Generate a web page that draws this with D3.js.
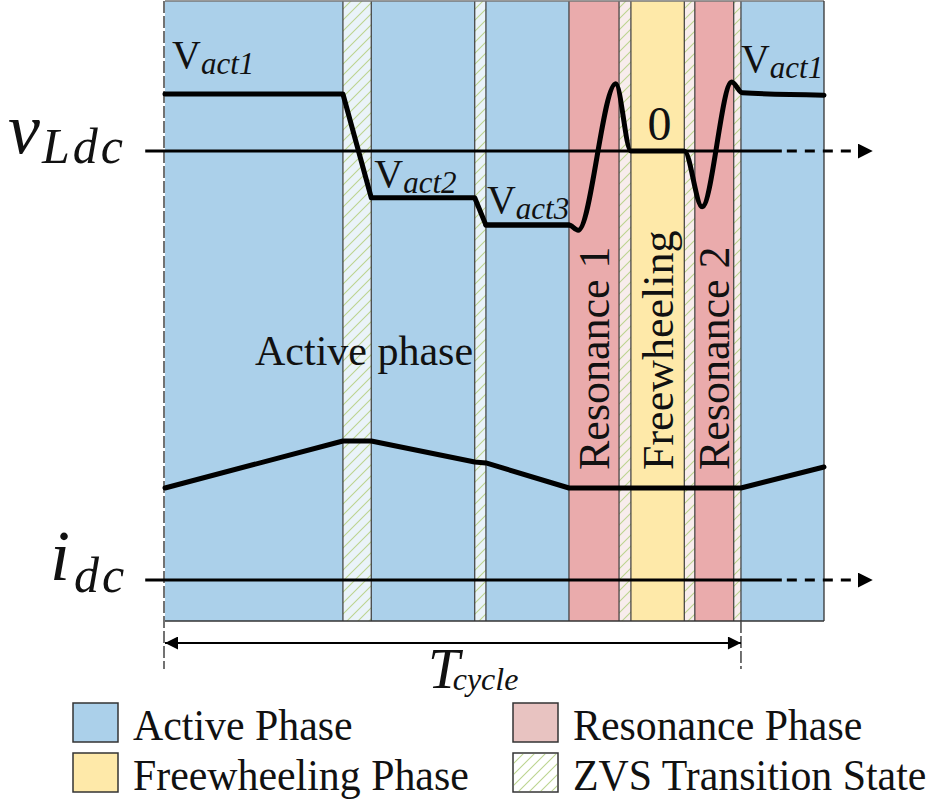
<!DOCTYPE html>
<html>
<head>
<meta charset="utf-8">
<script src="https://cdn.jsdelivr.net/npm/d3@7"></script>
<style>
  body { margin: 0; background: #fff; }
  svg { display: block; }
  text { font-family: "Liberation Serif", "Times New Roman", serif; fill: #111; }
</style>
</head>
<body>
<svg width="935" height="799"></svg>
<script>
// time axis is 0..100 % of the drawn window
const phaseBounds = [0, 27.0, 31.3, 47.0, 48.7, 61.3, 68.9, 70.7, 78.8, 80.4, 86.3, 87.4, 100];
const phaseTypes = ["active", "zvs", "active", "zvs", "active", "resonance", "zvs",
                    "freewheeling", "zvs", "resonance", "zvs", "active"];
const phaseNames = ["Resonance 1", "Freewheeling", "Resonance 2"];
const namedPhases = [5, 7, 9];

// v_Ldc, normalised to V_act1
const vSteps = [[0, 1], [27.0, 1], [31.3, -0.82], [47.0, -0.82], [48.7, -1.30], [61.3, -1.30]];
const vResonant = [[48.7, -1.30], [61.3, -1.30], [62.7, -1.39], [68.4, 1.18], [70.7, 0], [78.8, 0],
                   [81.5, -0.98], [86.0, 1.21], [87.6, 1.02], [100, 0.98]];
// i_dc, normalised to its peak
const iDc = [[0, 0.662], [27.0, 1], [31.3, 1], [47.0, 0.849], [48.7, 0.842], [61.3, 0.662],
             [87.4, 0.662], [100, 0.813]];

const legendLabels = ["Active Phase", "Resonance Phase", "Freewheeling Phase", "ZVS Transition State"];
const legendKeys = ["active", "resonanceLegend", "freewheeling", "zvs"];

const tCycle = [0, 87.4];

let svg = d3.select("svg");

let x = d3.scaleLinear().domain([0, 100]).range([165, 824]);
let yV = d3.scaleLinear().domain([0, 1]).range([151, 94]);
let yI = d3.scaleLinear().domain([0, 1]).range([580, 441]);
const yTop = 1, yBottom = 621;

const fills = {
  active: "#abd0ea",
  resonance: "#eaabac",
  resonanceLegend: "#e8c3c1",
  freewheeling: "#fee9a9",
};

let defs = svg.append("defs");
let hatch = defs.append("pattern")
    .attr("id", "hatch")
    .attr("patternUnits", "userSpaceOnUse")
    .attr("width", 11).attr("height", 11);
hatch.append("path")
    .attr("d", "M-1,12 L12,-1 M-3,3 L3,-3 M8,14 L14,8")
    .attr("stroke", "#bcd48f")
    .attr("stroke-width", 1.1);

defs.append("marker")
    .attr("id", "tip")
    .attr("viewBox", "0 0 10 10")
    .attr("refX", 10).attr("refY", 5)
    .attr("markerWidth", 5).attr("markerHeight", 5)
    .attr("markerUnits", "strokeWidth")
    .attr("orient", "auto-start-reverse")
  .append("path")
    .attr("d", "M0,0 L10,5 L0,10 Z")
    .attr("fill", "#000");

defs.append("marker")
    .attr("id", "tipThin")
    .attr("viewBox", "0 0 10 10")
    .attr("refX", 10).attr("refY", 5)
    .attr("markerWidth", 9).attr("markerHeight", 6.5)
    .attr("markerUnits", "strokeWidth")
    .attr("orient", "auto-start-reverse")
  .append("path")
    .attr("d", "M0,0 L10,5 L0,10 Z")
    .attr("fill", "#000");

// phase stripes
let phases = phaseTypes.map((type, i) => ({
  type: type,
  t0: phaseBounds[i],
  t1: phaseBounds[i + 1],
  prev: phaseTypes[i - 1]
}));

let stripes = svg.append("g").attr("class", "stripes");
stripes.selectAll("rect.bg")
  .data(phases)
  .enter().append("rect")
    .attr("class", "bg")
    .attr("x", d => x(d.t0))
    .attr("y", yTop)
    .attr("width", d => x(d.t1) - x(d.t0))
    .attr("height", yBottom - yTop)
    .attr("fill", d => d.type !== "zvs" ? fills[d.type] : (d.prev === "active" ? "#eaf3f9" : "#f8eded"));

stripes.selectAll("rect.hatch")
  .data(phases.filter(d => d.type === "zvs"))
  .enter().append("rect")
    .attr("class", "hatch")
    .attr("x", d => x(d.t0))
    .attr("y", yTop)
    .attr("width", d => x(d.t1) - x(d.t0))
    .attr("height", yBottom - yTop)
    .attr("fill", "url(#hatch)");

stripes.selectAll("line.sep")
  .data(phaseBounds.slice(1, -1))
  .enter().append("line")
    .attr("class", "sep")
    .attr("x1", d => x(d)).attr("x2", d => x(d))
    .attr("y1", yTop).attr("y2", yBottom)
    .attr("stroke", "#3a3a3a")
    .attr("stroke-width", 1.2);

// frame
svg.append("line")
    .attr("x1", x(0)).attr("x2", x(100)).attr("y1", yTop).attr("y2", yTop)
    .attr("stroke", "#777").attr("stroke-width", 1.5);
svg.append("line")
    .attr("x1", x(0)).attr("x2", x(100)).attr("y1", yBottom).attr("y2", yBottom)
    .attr("stroke", "#333").attr("stroke-width", 1.3);
svg.append("line")
    .attr("x1", x(100)).attr("x2", x(100)).attr("y1", yTop).attr("y2", yBottom)
    .attr("stroke", "#333").attr("stroke-width", 1.3);

// T_cycle markers
svg.append("line")
    .attr("x1", x(tCycle[0]) - 1).attr("x2", x(tCycle[0]) - 1)
    .attr("y1", yTop).attr("y2", 669)
    .attr("stroke", "#444").attr("stroke-width", 1.5)
    .attr("stroke-dasharray", "12,3");
svg.append("line")
    .attr("x1", x(tCycle[1])).attr("x2", x(tCycle[1]))
    .attr("y1", yBottom).attr("y2", 669)
    .attr("stroke", "#444").attr("stroke-width", 1.5)
    .attr("stroke-dasharray", "12,3");
svg.append("line")
    .attr("x1", x(tCycle[0])).attr("x2", x(tCycle[1]))
    .attr("y1", 643).attr("y2", 643)
    .attr("stroke", "#000").attr("stroke-width", 2)
    .attr("marker-start", "url(#tipThin)")
    .attr("marker-end", "url(#tipThin)");

let tLabel = svg.append("text")
    .attr("x", 428).attr("y", 688);
tLabel.append("tspan")
    .attr("font-style", "italic").attr("font-size", 57)
    .text("T");
tLabel.append("tspan")
    .attr("font-style", "italic").attr("font-size", 32)
    .attr("dx", -7).attr("dy", 2)
    .text("cycle");

// zero axes
function zeroAxis(y0) {
  svg.append("line")
      .attr("x1", x(-3)).attr("x2", x(93.6))
      .attr("y1", y0).attr("y2", y0)
      .attr("stroke", "#000").attr("stroke-width", 3);
  svg.append("line")
      .attr("x1", x(93.6) + 5).attr("x2", x(107.4))
      .attr("y1", y0).attr("y2", y0)
      .attr("stroke", "#000").attr("stroke-width", 3)
      .attr("stroke-dasharray", "10,8")
      .attr("marker-end", "url(#tip)");
}
zeroAxis(yV(0));
zeroAxis(yI(0));

// waveforms
let lineLin = d3.line().x(d => x(d[0]));
let lineRes = d3.line().x(d => x(d[0])).curve(d3.curveMonotoneX);

svg.append("path")
    .attr("d", lineLin.y(d => yV(d[1]))(vSteps))
    .attr("fill", "none").attr("stroke", "#000").attr("stroke-width", 5)
    .attr("stroke-linejoin", "round").attr("stroke-linecap", "round");
svg.append("path")
    .attr("d", lineRes.y(d => yV(d[1]))(vResonant))
    .attr("fill", "none").attr("stroke", "#000").attr("stroke-width", 5)
    .attr("stroke-linejoin", "round").attr("stroke-linecap", "round");
svg.append("path")
    .attr("d", d3.line().x(d => x(d[0])).y(d => yI(d[1]))(iDc))
    .attr("fill", "none").attr("stroke", "#000").attr("stroke-width", 5)
    .attr("stroke-linejoin", "round").attr("stroke-linecap", "round");

// level labels
function vLabel(sub, px, py) {
  let t = svg.append("text").attr("x", px).attr("y", py);
  t.append("tspan").attr("font-size", 40).text("V");
  t.append("tspan").attr("font-size", 31).attr("font-style", "italic")
      .attr("dy", 6).text(sub);
}
vLabel("act1", x(vSteps[0][0]) + 7, yV(vSteps[0][1]) - 26);
vLabel("act2", x(vSteps[2][0]) + 3, yV(vSteps[2][1]) - 11);
vLabel("act3", x(vSteps[4][0]) + 1, yV(vSteps[4][1]) - 12);
vLabel("act1", x(tCycle[1]), yV(1) - 22);

svg.append("text")
    .attr("x", x((phaseBounds[7] + phaseBounds[8]) / 2) + 2)
    .attr("y", yV(0) - 11)
    .attr("text-anchor", "middle")
    .attr("font-size", 48)
    .text("0");

// signal names
let vName = svg.append("text").attr("x", 8).attr("y", 153);
vName.append("tspan").attr("font-style", "italic").attr("font-size", 72).text("v");
vName.append("tspan").attr("font-style", "italic").attr("font-size", 50)
    .attr("letter-spacing", 3).attr("dy", 10).attr("dx", 2).text("Ldc");

let iName = svg.append("text").attr("x", 50).attr("y", 580);
iName.append("tspan").attr("font-style", "italic").attr("font-size", 72).text("i");
iName.append("tspan").attr("font-style", "italic").attr("font-size", 50)
    .attr("letter-spacing", 3).attr("dy", 12).attr("dx", 4).text("dc");

svg.append("text")
    .attr("x", 255).attr("y", 365)
    .attr("font-size", 42)
    .text("Active phase");

// vertical phase names
svg.selectAll("text.phase")
  .data(namedPhases)
  .enter().append("text")
    .attr("class", "phase")
    .attr("font-size", 44)
    .attr("transform", d => {
      let cx = (x(phaseBounds[d]) + x(phaseBounds[d + 1])) / 2 + 15;
      return `translate(${cx}, 470) rotate(-90)`;
    })
    .text((d, i) => phaseNames[i]);

// legend
let legend = svg.append("g").attr("class", "legend");
let item = legend.selectAll("g")
  .data(legendLabels)
  .enter().append("g")
    .attr("transform", (d, i) => `translate(${i % 2 ? 513 : 73}, ${i < 2 ? 703 : 753})`);

item.append("rect")
    .attr("width", 45).attr("height", 39)
    .attr("fill", (d, i) => legendKeys[i] === "zvs" ? "#fff" : fills[legendKeys[i]])
    .attr("stroke", "#333").attr("stroke-width", 1.5);
item.filter((d, i) => legendKeys[i] === "zvs").append("rect")
    .attr("x", 1).attr("y", 1)
    .attr("width", 43).attr("height", 37)
    .attr("fill", "url(#hatch)");

item.append("text")
    .attr("transform", "translate(60, 37) scale(0.93, 1)")
    .attr("font-size", 45)
    .text(d => d);
</script>
</body>
</html>
